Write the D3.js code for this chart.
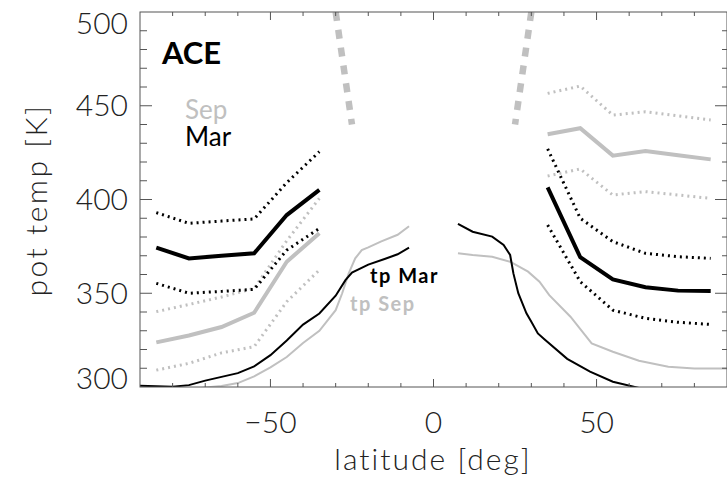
<!DOCTYPE html>
<html>
<head>
<meta charset="utf-8">
<script src="https://cdn.jsdelivr.net/npm/d3@7"></script>
<style>
  html, body { margin: 0; padding: 0; background: #fff; }
  svg { display: block; }
</style>
</head>
<body>
<svg id="chart" width="727" height="478"></svg>
<script>
// ---- data ----
// southern hemisphere bands (latitude, pot temp)
const latS = [-85, -75, -65, -55, -45, -35];
const marMeanS = [374.3, 368.6, 370.0, 371.3, 391.7, 405.1];
const marHiS = [393.0, 387.3, 388.5, 389.6, 409.0, 425.5];
const marLoS = [355.3, 350.0, 351.0, 352.1, 373.0, 384.6];
const sepMeanS = [323.8, 327.5, 332.0, 339.6, 366.8, 382.0];
const sepHiS = [340.2, 344.0, 348.0, 352.6, 378.0, 400.6];
const sepLoS = [309.0, 312.6, 318.2, 321.5, 345.5, 362.4];

// northern hemisphere bands
const latN = [35, 45, 55, 65, 75, 85];
const marMeanN = [406.5, 369.2, 357.4, 353.2, 351.4, 351.2];
const marHiN = [427.0, 390.0, 377.5, 371.3, 369.5, 368.6];
const marLoN = [386.4, 356.2, 341.0, 336.6, 334.5, 333.4];
const sepMeanN = [434.8, 438.0, 423.4, 425.9, 423.6, 421.4];
const sepHiN = [456.6, 460.5, 445.0, 446.8, 444.6, 442.4];
const sepLoN = [412.5, 416.3, 402.4, 404.2, 402.4, 400.6];

// tropopause
const tpMarLatS = [-90, -85, -80, -75, -70, -65, -60, -55, -50, -45, -40, -35, -30, -27, -25, -20, -15, -11, -7.5];
const tpMarS = [300.7, 300.4, 300.2, 301.0, 303.4, 305.4, 307.4, 311.0, 317.0, 324.8, 333.3, 339.2, 348.7, 357.0, 361.0, 365.3, 368.3, 370.8, 374.3];
const tpSepLatS = [-75, -70, -65, -60, -55, -50, -45, -40, -35, -30, -28, -26, -24, -22, -20, -16, -11, -7.5];
const tpSepS = [298.5, 299.8, 300.5, 302.1, 305.7, 310.5, 316.0, 323.5, 330.0, 341.0, 350.0, 360.6, 368.6, 373.0, 374.5, 377.7, 381.2, 385.7];
const tpMarLatN = [7.5, 12, 18, 21.5, 23.5, 24.5, 26, 28.5, 30, 32, 34, 41, 48, 55, 63];
const tpMarN = [387.0, 382.8, 380.2, 375.7, 370.4, 360.6, 350.0, 339.3, 334.8, 328.6, 325.5, 315.0, 308.2, 302.8, 299.5];
const tpSepLatN = [7.5, 12, 18, 23.5, 29, 32.5, 35.5, 42, 48.5, 55, 63, 72, 80, 90];
const tpSepN = [371.3, 370.4, 369.5, 366.8, 361.5, 356.2, 349.0, 337.5, 323.3, 318.8, 314.0, 310.8, 309.9, 309.9];

// thick dashed boundary lines
const bndLatL = [-30, -25];
const bndLatR = [30, 25];
const bndT = [500, 440];

const xTicks = [-50, 0, 50];
const yTicks = [300, 350, 400, 450, 500];

// ---- layout ----
const svg = d3.select("#chart");
const plotL = 140, plotR = 727, plotT = 12, plotB = 387;
const gray = "#c0c0c0";
const axisColor = "#555";
const fontFamily = "Lato, 'DejaVu Sans', sans-serif";

const x = d3.scaleLinear().domain([-90, 90]).range([plotL, plotR]);
const y = d3.scaleLinear().domain([300, 500]).range([plotB, plotT]);

svg.append("clipPath").attr("id", "plotclip")
  .append("rect")
  .attr("x", plotL).attr("y", plotT)
  .attr("width", plotR - plotL).attr("height", plotB - plotT);

const plot = svg.append("g").attr("clip-path", "url(#plotclip)");

const line = d3.line().x(d => x(d[0])).y(d => y(d[1]));

function drawSeries(lats, vals, color, width, dash) {
  plot.append("path")
    .datum(lats.map((l, i) => [l, vals[i]]))
    .attr("d", line)
    .attr("fill", "none")
    .attr("stroke", color)
    .attr("stroke-width", width)
    .attr("stroke-linejoin", "miter")
    .attr("stroke-dasharray", dash || null);
}

const dotted = "2,4";

// Sep bands (gray)
drawSeries(latS, sepHiS, gray, 3, dotted);
drawSeries(latS, sepLoS, gray, 3, dotted);
drawSeries(latS, sepMeanS, gray, 4);
drawSeries(latN, sepHiN, gray, 3, dotted);
drawSeries(latN, sepLoN, gray, 3, dotted);
drawSeries(latN, sepMeanN, gray, 4);

// Mar bands (black)
drawSeries(latS, marHiS, "#000", 3, dotted);
drawSeries(latS, marLoS, "#000", 3, dotted);
drawSeries(latS, marMeanS, "#000", 4);
drawSeries(latN, marHiN, "#000", 3, dotted);
drawSeries(latN, marLoN, "#000", 3, dotted);
drawSeries(latN, marMeanN, "#000", 4);

// tropopause lines
drawSeries(tpSepLatS, tpSepS, gray, 2);
drawSeries(tpSepLatN, tpSepN, gray, 2);
drawSeries(tpMarLatS, tpMarS, "#000", 2);
drawSeries(tpMarLatN, tpMarN, "#000", 2);

// thick dashed boundaries
drawSeries(bndLatL, bndT, gray, 6.5, "9,9");
drawSeries(bndLatR, bndT, gray, 6.5, "9,9");

// ---- axes frame ----
const axes = svg.append("g").attr("stroke", axisColor).attr("stroke-width", 1).attr("fill", "none");
axes.append("rect")
  .attr("x", plotL).attr("y", plotT)
  .attr("width", plotR - plotL).attr("height", plotB - plotT);

// x ticks (minor every 10, major at labelled values)
d3.range(-80, 90, 10).forEach(v => {
  const len = xTicks.includes(v) ? 8 : 4;
  axes.append("line").attr("x1", x(v)).attr("x2", x(v)).attr("y1", plotB).attr("y2", plotB - len);
  axes.append("line").attr("x1", x(v)).attr("x2", x(v)).attr("y1", plotT).attr("y2", plotT + len);
});

// y ticks (minor every 10)
d3.range(310, 500, 10).forEach(v => {
  const major = v % 50 === 0;
  axes.append("line").attr("x1", plotL).attr("x2", plotL + (major ? 12 : 7)).attr("y1", y(v)).attr("y2", y(v));
  axes.append("line").attr("x1", plotR).attr("x2", plotR - (major ? 12 : 5)).attr("y1", y(v)).attr("y2", y(v));
});

// tick labels
const labels = svg.append("g")
  .style("font-family", fontFamily)
  .style("font-weight", 300)
  .attr("font-size", 30)
  .attr("fill", "#222");

xTicks.forEach(v => {
  labels.append("text")
    .attr("x", x(v))
    .attr("y", 433)
    .attr("text-anchor", "middle")
    .text(v < 0 ? "\u2212" + Math.abs(v) : v);
});

yTicks.forEach(v => {
  const yy = Math.min(Math.max(y(v), plotT + 11), plotB - 9);
  labels.append("text")
    .attr("x", 128)
    .attr("y", yy + 10.5)
    .attr("text-anchor", "end")
    .text(v);
});

// axis titles
labels.append("text")
  .attr("x", 433)
  .attr("y", 470)
  .attr("text-anchor", "middle")
  .attr("letter-spacing", 2)
  .text("latitude [deg]");

labels.append("text")
  .attr("transform", "translate(47,200) rotate(-90)")
  .attr("text-anchor", "middle")
  .attr("letter-spacing", 2.5)
  .text("pot temp [K]");

// in-plot annotations
const notes = svg.append("g").style("font-family", fontFamily);

notes.append("text")
  .attr("x", 162).attr("y", 64)
  .attr("font-size", 31).attr("font-weight", 700)
  .attr("fill", "#000")
  .text("ACE");

notes.append("text")
  .attr("x", 185).attr("y", 119)
  .attr("font-size", 26)
  .attr("fill", gray)
  .text("Sep");

notes.append("text")
  .attr("x", 185).attr("y", 146)
  .attr("font-size", 26)
  .attr("fill", "#000")
  .text("Mar");

notes.append("text")
  .attr("x", 370).attr("y", 283)
  .attr("font-size", 20).attr("font-weight", 700)
  .attr("letter-spacing", 1.5)
  .attr("fill", "#000")
  .text("tp Mar");

notes.append("text")
  .attr("x", 350).attr("y", 311)
  .attr("font-size", 20).attr("font-weight", 700)
  .attr("letter-spacing", 1.5)
  .attr("fill", gray)
  .text("tp Sep");
</script>
</body>
</html>
